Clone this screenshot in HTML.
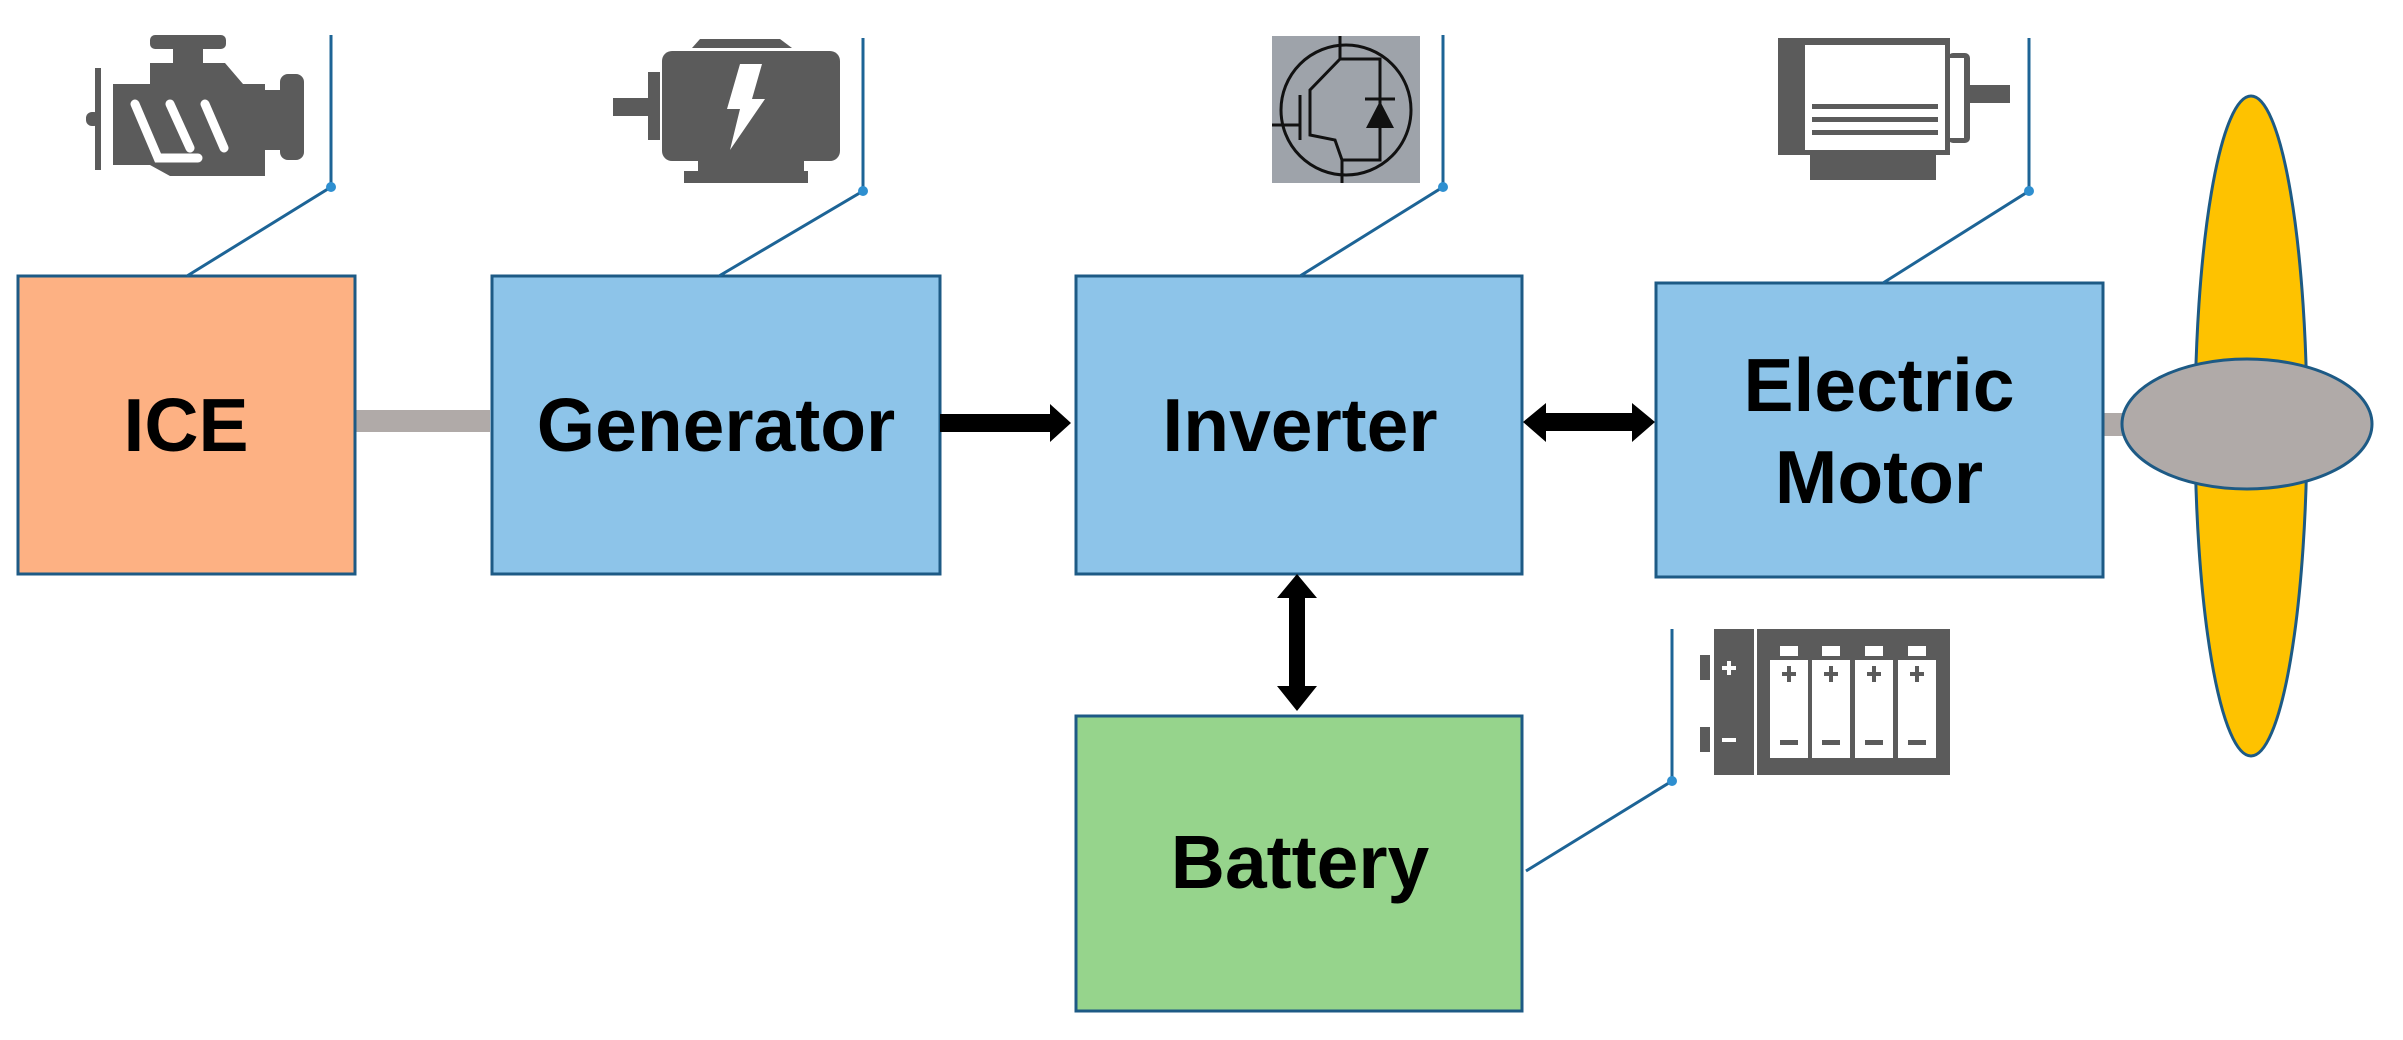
<!DOCTYPE html>
<html><head><meta charset="utf-8"><style>
html,body{margin:0;padding:0;background:#fff;}
svg{display:block;}
text{font-family:"Liberation Sans",Arial,sans-serif;font-weight:bold;font-size:75px;fill:#000;}
</style></head><body>
<svg width="2403" height="1040" viewBox="0 0 2403 1040" xmlns="http://www.w3.org/2000/svg">
<!-- shafts -->
<rect x="355" y="410" width="135" height="22" fill="#b0aaa8"/>
<rect x="2100" y="413" width="30" height="23" fill="#b0aaa8"/>
<!-- propeller -->
<ellipse cx="2251" cy="426" rx="56" ry="330" fill="#fec200" stroke="#1d5a85" stroke-width="3"/>
<ellipse cx="2247" cy="424" rx="125" ry="65" fill="#b0aaa8" stroke="#1d5a85" stroke-width="3"/>
<!-- boxes -->
<rect x="18" y="276" width="337" height="298" fill="#fdb183" stroke="#1d5a85" stroke-width="3"/>
<rect x="492" y="276" width="448" height="298" fill="#8dc4e9" stroke="#1d5a85" stroke-width="3"/>
<rect x="1076" y="276" width="446" height="298" fill="#8dc4e9" stroke="#1d5a85" stroke-width="3"/>
<rect x="1656" y="283" width="447" height="294" fill="#8dc4e9" stroke="#1d5a85" stroke-width="3"/>
<rect x="1076" y="716" width="446" height="295" fill="#96d48c" stroke="#1d5a85" stroke-width="3"/>
<!-- labels -->
<text x="186" y="451" text-anchor="middle">ICE</text>
<text x="716" y="451" text-anchor="middle">Generator</text>
<text x="1300" y="451" text-anchor="middle">Inverter</text>
<text x="1879" y="411" text-anchor="middle">Electric</text>
<text x="1879" y="503" text-anchor="middle">Motor</text>
<text x="1300" y="888" text-anchor="middle">Battery</text>
<!-- arrows -->
<polygon points="940,414 1050,414 1050,404 1071,423 1050,442 1050,432 940,432" fill="#000"/>
<polygon points="1523,422 1546,403 1546,413 1632,413 1632,403 1655,422 1632,442 1632,431 1546,431 1546,442" fill="#000"/>
<polygon points="1297,574 1317,598 1305,598 1305,686 1317,686 1297,711 1277,686 1289,686 1289,598 1277,598" fill="#000"/>
<!-- callouts -->
<g stroke="#1d6496" stroke-width="3" fill="none">
<polyline points="331,35 331,187 187,276"/>
<polyline points="863,38 863,191 719,276"/>
<polyline points="1443,35 1443,187 1300,276"/>
<polyline points="2029,38 2029,191 1883,283"/>
<polyline points="1672,629 1672,781 1526,871"/>
</g>
<g fill="#2e8fd0">
<circle cx="331" cy="187" r="5"/><circle cx="863" cy="191" r="5"/><circle cx="1443" cy="187" r="5"/><circle cx="2029" cy="191" r="5"/><circle cx="1672" cy="781" r="5"/>
</g>
<!-- engine icon -->
<g fill="#5b5b5b">
<rect x="150" y="35" width="76" height="14" rx="5"/>
<rect x="173" y="49" width="30" height="14"/>
<polygon points="150,63 225,63 243,84 265,84 265,176 170,176 150,165 113,165 113,84 150,84"/>
<rect x="280" y="74" width="24" height="86" rx="8"/>
<rect x="265" y="90" width="20" height="60"/>
<rect x="95" y="68" width="6" height="102"/>
<rect x="86" y="112" width="14" height="14" rx="6"/>
</g>
<g stroke="#fff" stroke-width="9" fill="none" stroke-linecap="round">
<polyline points="135,104 158,158 198,158"/>
<line x1="170" y1="104" x2="190" y2="148"/>
<line x1="205" y1="104" x2="224" y2="148"/>
</g>
<!-- generator icon -->
<g fill="#5b5b5b">
<polygon points="700,39 780,39 792,48 692,48"/>
<rect x="662" y="51" width="178" height="110" rx="10"/>
<rect x="648" y="72" width="12" height="68"/>
<rect x="613" y="98" width="36" height="18"/>
<rect x="698" y="161" width="106" height="12"/>
<rect x="684" y="171" width="124" height="12"/>
</g>
<polygon points="740,64 762,64 752,99 765,99 730,150 740,109 727,109" fill="#fff"/>
<!-- IGBT icon -->
<rect x="1272" y="36" width="148" height="147" fill="#9ea3aa"/>
<g stroke="#111" stroke-width="3" fill="none">
<circle cx="1346" cy="110" r="65"/>
<line x1="1340" y1="36" x2="1340" y2="59"/>
<polyline points="1340,59 1310,90 1310,135 1335,140 1342,160 1342,183"/>
<line x1="1300" y1="95" x2="1300" y2="140"/>
<polyline points="1272,125 1300,125"/>
<polyline points="1340,59 1380,59 1380,160 1342,160"/>
<line x1="1365" y1="99" x2="1395" y2="99"/>
</g>
<polygon points="1366,128 1394,128 1380,101" fill="#111"/>
<!-- motor icon -->
<g fill="#5b5b5b">
<rect x="1778" y="38" width="172" height="117"/>
<rect x="1948" y="53" width="22" height="90" rx="5"/>
<rect x="1970" y="85" width="40" height="18"/>
<rect x="1810" y="155" width="126" height="25"/>
</g>
<rect x="1805" y="45" width="140" height="105" fill="#fff"/>
<rect x="1950" y="58" width="14" height="80" fill="#fff"/>
<g fill="#5b5b5b">
<rect x="1812" y="104" width="126" height="5"/>
<rect x="1812" y="117" width="126" height="5"/>
<rect x="1812" y="130" width="126" height="5"/>
</g>
<!-- battery icon -->
<g fill="#5b5b5b">
<rect x="1714" y="629" width="40" height="146"/>
<rect x="1757" y="629" width="193" height="146"/>
<rect x="1700" y="655" width="10" height="25"/>
<rect x="1700" y="727" width="10" height="25"/>
</g>
<g fill="#fff">
<rect x="1722" y="666" width="14" height="4"/><rect x="1727" y="661" width="4" height="14"/>
<rect x="1722" y="738" width="14" height="4"/>
<rect x="1770" y="660" width="38" height="98"/><rect x="1812" y="660" width="38" height="98"/>
<rect x="1855" y="660" width="38" height="98"/><rect x="1898" y="660" width="38" height="98"/>
<rect x="1780" y="646" width="18" height="10"/><rect x="1822" y="646" width="18" height="10"/>
<rect x="1865" y="646" width="18" height="10"/><rect x="1908" y="646" width="18" height="10"/>
</g>
<g fill="#5b5b5b">
<rect x="1782" y="672" width="14" height="4"/><rect x="1787" y="666" width="4" height="16"/>
<rect x="1824" y="672" width="14" height="4"/><rect x="1829" y="666" width="4" height="16"/>
<rect x="1867" y="672" width="14" height="4"/><rect x="1872" y="666" width="4" height="16"/>
<rect x="1910" y="672" width="14" height="4"/><rect x="1915" y="666" width="4" height="16"/>
<rect x="1780" y="740" width="18" height="5"/><rect x="1822" y="740" width="18" height="5"/>
<rect x="1865" y="740" width="18" height="5"/><rect x="1908" y="740" width="18" height="5"/>
</g>
</svg>
</body></html>
